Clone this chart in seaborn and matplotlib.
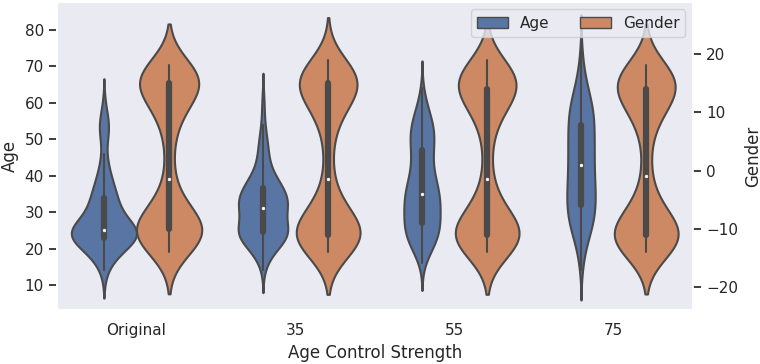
import numpy as np
import pandas as pd
import matplotlib
matplotlib.use("Agg")
import matplotlib.pyplot as plt
import seaborn as sns
from matplotlib.patches import Patch

# Categories (x axis)
strengths = ["Original", "35", "55", "75"]
attributes = ["Age", "Gender"]

# ---- Age (left axis): observed ages and how often each occurs ----
age_orig_vals = [14, 15, 16, 17, 18, 19, 20, 21, 22, 23, 24, 25, 26, 27, 28, 29, 30, 31, 32, 33,
                 34, 35, 36, 37, 38, 39, 40, 41, 42, 43, 44, 46, 51, 52, 53, 54, 55, 57, 59]
age_orig_counts = [1, 1, 1, 2, 2, 3, 4, 4, 6, 10, 14, 15, 5, 3, 3, 3, 3, 3, 3, 3,
                   4, 3, 2, 2, 2, 1, 2, 1, 1, 1, 1, 1, 1, 2, 2, 2, 1, 1, 1]

age_35_vals = [14, 15, 16, 17, 18, 19, 20, 21, 22, 23, 24, 25, 26, 27, 28, 29, 30, 31, 32, 33,
               34, 35, 36, 37, 38, 39, 40, 41, 42, 43, 44, 45, 46, 47, 48, 49, 50, 51, 52, 53,
               54, 56, 58, 60, 62]
age_35_counts = [1, 1, 1, 2, 3, 4, 5, 7, 9, 11, 12, 12, 10, 8, 7, 7, 8, 10, 11, 11,
                 10, 9, 8, 8, 7, 6, 4, 3, 3, 3, 2, 2, 2, 2, 2, 2, 2, 1, 1, 1,
                 1, 1, 1, 1, 1]

age_55_vals = [16, 17, 18, 19, 20, 21, 22, 23, 24, 25, 26, 27, 28, 29, 30, 31, 32, 33, 34, 35,
               36, 37, 38, 39, 40, 41, 42, 43, 44, 45, 46, 47, 48, 49, 50, 51, 52, 53, 54, 55,
               56, 57, 58, 59, 60, 61, 62, 63, 64]
age_55_counts = [1, 2, 3, 4, 6, 7, 8, 9, 10, 10, 10, 10, 9, 9, 9, 9, 10, 10, 10, 10,
                 9, 8, 8, 7, 7, 6, 5, 5, 5, 5, 6, 6, 6, 6, 7, 7, 7, 7, 6, 6,
                 5, 4, 3, 3, 2, 2, 1, 1, 1]

age_75_vals = [14, 15, 16, 17, 18, 19, 20, 21, 22, 23, 24, 25, 26, 27, 28, 29, 30, 31, 32,
               33, 34, 35, 36, 37, 38, 39, 40, 41, 42, 43, 44, 45, 46, 47, 48, 49, 50, 51, 52,
               53, 54, 55, 56, 57, 58, 59, 60, 61, 62, 63, 64, 65, 66, 67, 68, 69, 70, 71, 72,
               73, 74, 76]
age_75_counts = [2, 1, 1, 2, 2, 2, 3, 3, 4, 5, 7, 8, 8, 8, 9, 10, 10, 10, 10,
                 10, 10, 10, 10, 10, 9, 9, 9, 9, 9, 9, 9, 9, 9, 9, 9, 9, 9, 9, 9,
                 9, 9, 9, 9, 9, 9, 8, 8, 7, 6, 5, 5, 4, 3, 3, 2, 2, 2, 1, 1,
                 1, 1, 1]

# ---- Gender (right axis): observed scores and how often each occurs ----
gender_vals = [-14, -13, -12, -11, -10, -9, -8, -7, -6, -5, -4, -3, -2, -1, 0, 1, 2,
               3, 4, 5, 6, 7, 8, 9, 10, 11, 12, 13, 14, 15, 16, 17, 18, 19]
gender_orig_counts = [5, 9, 13, 16, 18, 12, 8, 7, 3, 3, 2, 2, 2, 1, 1, 1, 1,
                      1, 1, 1, 2, 2, 2, 3, 4, 4, 6, 8, 9, 16, 17, 13, 7, 0]
gender_35_counts = [7, 12, 16, 17, 13, 10, 7, 6, 3, 3, 2, 2, 2, 1, 1, 1, 1,
                    1, 1, 1, 2, 2, 2, 3, 4, 5, 6, 8, 10, 16, 15, 11, 6, 3]
gender_55_counts = [7, 13, 17, 17, 12, 9, 7, 6, 3, 3, 2, 2, 2, 1, 1, 1, 1,
                    1, 1, 1, 2, 2, 2, 3, 4, 5, 7, 9, 11, 15, 14, 10, 6, 3]
gender_75_counts = [8, 14, 17, 16, 12, 9, 6, 6, 3, 3, 2, 2, 1, 2, 1, 1, 1,
                    1, 1, 1, 2, 2, 3, 3, 4, 6, 8, 10, 11, 14, 13, 10, 7, 0]

age_groups = [(age_orig_vals, age_orig_counts), (age_35_vals, age_35_counts),
              (age_55_vals, age_55_counts), (age_75_vals, age_75_counts)]
gender_groups = [gender_orig_counts, gender_35_counts, gender_55_counts, gender_75_counts]

age_df = pd.concat([
    pd.DataFrame({"Strength": s, "Attribute": "Age", "Value": np.repeat(v, c)})
    for s, (v, c) in zip(strengths, age_groups)
], ignore_index=True)
gender_df = pd.concat([
    pd.DataFrame({"Strength": s, "Attribute": "Gender", "Value": np.repeat(gender_vals, c)})
    for s, c in zip(strengths, gender_groups)
], ignore_index=True)

sns.set_theme(style="darkgrid")
fig, ax = plt.subplots(figsize=(7.6, 3.64), dpi=100)
fig.subplots_adjust(left=0.075, right=0.912, bottom=0.148, top=0.995)

line_gray = (0.29, 0.29, 0.29)
inner_style = dict(box_width=4.5, whis_width=1.5, marker="o")
sns.violinplot(data=age_df, x="Strength", y="Value", hue="Attribute",
               hue_order=attributes, order=strengths, inner="box", dodge=True,
               width=0.82, linewidth=1.5, linecolor=line_gray,
               inner_kws=inner_style, legend=False, ax=ax)
ax2 = ax.twinx()
sns.violinplot(data=gender_df, x="Strength", y="Value", hue="Attribute",
               hue_order=attributes, order=strengths, inner="box", dodge=True,
               width=0.82, linewidth=1.5, linecolor=line_gray, bw_adjust=0.85,
               inner_kws=inner_style, legend=False, ax=ax2)

# small white median dots
for a in (ax, ax2):
    for ln in a.lines:
        if ln.get_marker() == "o":
            ln.set_markersize(2.0)
            ln.set_markeredgewidth(0.4)
            ln.set_markerfacecolor("white")
            ln.set_markeredgecolor("white")

ax.set_ylim(3.1, 87.7)
ax2.set_ylim(-23.9, 28.9)
ax.set_yticks([10, 20, 30, 40, 50, 60, 70, 80])
ax2.set_yticks([-20, -10, 0, 10, 20])
ax.grid(False)
ax2.grid(False)
ax.tick_params(axis="y", left=True)
ax2.tick_params(axis="y", right=True)
ax.set_ylabel("Age")
ax2.set_ylabel("Gender")
ax.set_xlabel("Age Control Strength")

pal = sns.color_palette("deep")
handles = [Patch(facecolor=sns.desaturate(pal[0], 0.75), edgecolor=line_gray),
           Patch(facecolor=sns.desaturate(pal[1], 0.75), edgecolor=line_gray)]
ax2.legend(handles, attributes, ncol=2, loc="upper right")

fig.savefig("out.png", dpi=100)
